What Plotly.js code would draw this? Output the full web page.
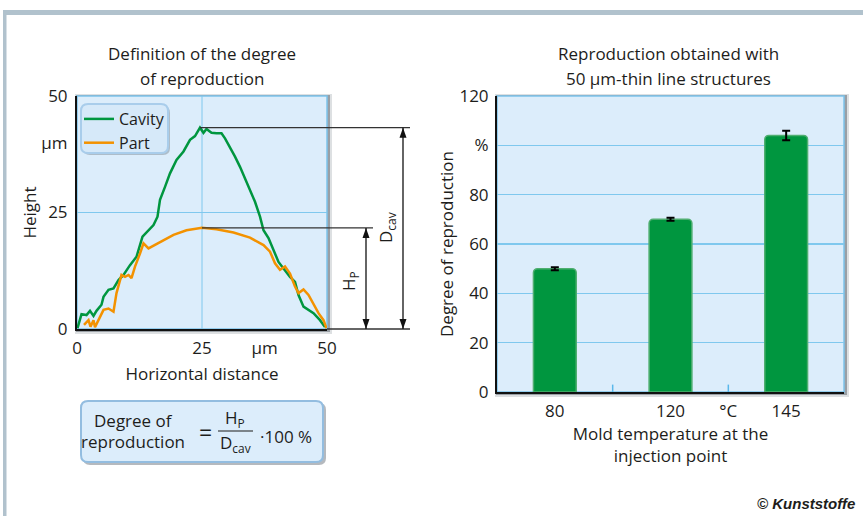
<!DOCTYPE html>
<html>
<head>
<meta charset="utf-8">
<script src="https://cdn.plot.ly/plotly-3.0.1.min.js"></script>
<style>html,body{margin:0;padding:0;background:#fff;}#chart{width:863px;height:516px;}</style>
</head>
<body>
<div id="chart"></div>
<script>
// ---------------- data ----------------
const cavityX = [0.1,0.9,1.9,2.6,3.3,3.9,4.9,5.3,6.3,7.3,8.3,9.3,10.6,11.9,13.1,14.1,15.3,16.1,16.6,17.6,18.6,19.9,21.3,22.6,23.6,24.6,25.3,25.9,26.9,27.9,28.9,29.6,30.6,31.6,32.6,33.6,34.6,35.6,36.6,37.3,38.3,39.3,40.3,41.3,42.6,43.6,44.3,45.3,46.3,47.3,48.6,49.6];
const cavityY = [0.2,3.2,3.0,3.9,2.8,3.9,5.2,6.9,8.4,8.7,10.5,11.6,13.7,15.5,19.8,20.9,22.3,24.1,27.7,30.5,33.4,36.3,38.1,40.6,41.4,43.2,42.1,42.9,42.1,42.0,42.0,40.9,39.1,37.0,34.8,32.3,29.8,27.3,24.1,21.2,19.5,17.0,14.4,13.0,11.2,10.1,7.3,4.8,4.1,3.4,1.9,0.4];
const partX = [1.4,2.3,2.7,3.3,3.6,4.3,5.3,6.3,7.3,7.9,8.9,9.6,10.3,10.9,11.6,12.6,13.3,14.3,16.6,19.3,21.9,25.0,27.9,31.3,34.6,37.3,38.6,39.6,40.6,41.6,42.6,43.6,44.3,45.3,46.3,47.3,48.3,49.3,49.9];
const partY = [0.9,1.9,0.5,1.9,0.4,1.9,4.1,4.4,3.7,7.7,11.6,11.2,11.6,10.9,13.4,16.2,18.4,17.3,18.7,20.2,21.2,21.7,21.4,20.7,19.6,18.0,16.6,14.1,12.7,13.4,11.9,9.1,7.7,8.5,7.3,5.2,3.4,1.9,0.15];
const heightTickVals = [0,25,40,50];
const heightTickText = ['0','25','µm','50'];
const distTickVals = [0,25,37.5,50];
const distTickText = ['0','25','µm','50'];

const temperatures = ['80','120','145'];
const reproduction = [50, 70, 104];
const reproductionErr = [0.6, 0.6, 1.9];
const tempTickVals = [0,2,3,4];
const tempTickText = ['80','120','°C','145'];
const reproTickVals = [0,20,40,60,80,100,120];
const reproTickText = ['0','20','40','60','80','%','120'];

// ---------------- helpers ----------------
const W = 863, H = 516;
const px = X => X / W;
const py = Y => 1 - Y / H;
const FONT = '"Open Sans", "Noto Sans", sans-serif';
const TXT = '#1d1d1b';
const GRID = '#7fc8ee';
const BG = '#dcedfb';
const GREEN = '#00963f';
const ORANGE = '#f39200';

const L = {x0:77, x1:327, y0:96, y1:329};
const R = {x0:497, x1:844, y0:96, y1:392};
const ppuL = (L.y1 - L.y0) / 50;   // pixels per µm (arrow heads only)

const cavMax = Math.max(...cavityY);
const partMax = Math.max(...partY);
const cavPeakX = cavityX[cavityY.indexOf(cavMax)];

function rr(x0,y0,x1,y1,r){
  const X=v=>px(v), Y=v=>py(v);
  return `M${X(x0+r)},${Y(y0)} L${X(x1-r)},${Y(y0)} Q${X(x1)},${Y(y0)} ${X(x1)},${Y(y0+r)} L${X(x1)},${Y(y1-r)} Q${X(x1)},${Y(y1)} ${X(x1-r)},${Y(y1)} L${X(x0+r)},${Y(y1)} Q${X(x0)},${Y(y1)} ${X(x0)},${Y(y1-r)} L${X(x0)},${Y(y0+r)} Q${X(x0)},${Y(y0)} ${X(x0+r)},${Y(y0)} Z`;
}
function prect(x0,y0,x1,y1,fill,line,lw){
  return {type:'rect', xref:'paper', yref:'paper', x0:px(x0), x1:px(x1), y0:py(y0), y1:py(y1),
    fillcolor:fill, line:{color:line||'rgba(0,0,0,0)', width:lw||0}, layer:'below'};
}
function dimArrow(X, top){
  const hl = 10 / ppuL, hw = 3.5;
  return [
    {type:'line', xref:'paper', yref:'y', x0:px(X), x1:px(X), y0:0, y1:top, line:{color:'#111', width:1.3}},
    {type:'path', xref:'paper', yref:'y', path:`M${px(X)},${top} L${px(X-hw)},${top-hl} L${px(X+hw)},${top-hl} Z`, fillcolor:'#111', line:{width:0}},
    {type:'path', xref:'paper', yref:'y', path:`M${px(X)},${0} L${px(X-hw)},${hl} L${px(X+hw)},${hl} Z`, fillcolor:'#111', line:{width:0}}
  ];
}

// ---------------- traces ----------------
const traces = [
  {type:'scatter', mode:'lines', x:cavityX, y:cavityY, name:'Cavity', xaxis:'x', yaxis:'y',
   line:{color:GREEN, width:2.5}},
  {type:'scatter', mode:'lines', x:partX, y:partY, name:'Part', xaxis:'x', yaxis:'y',
   line:{color:ORANGE, width:2.5}},
  {type:'bar', x:temperatures.map((t,i)=>2*i), y:reproduction, xaxis:'x2', yaxis:'y2', showlegend:false,
   width:0.74, marker:{color:GREEN, line:{color:'#4fae70', width:1.5}, cornerradius:4},
   error_y:{type:'data', array:reproductionErr, visible:true, color:'#000', thickness:2, width:4},
   hoverinfo:'skip'}
];

// ---------------- shapes ----------------
const shapes = [
  prect(3,10,863,15,'#b1c2cd'),
  prect(3,10,6.5,516,'#b1c2cd'),
  prect(L.x0-2,L.y0-2,L.x1+5,L.y1+5,'rgba(120,130,140,0.25)'),
  prect(L.x0-1,L.y0-1,L.x1+3,L.y1+3,'rgba(70,80,90,0.45)'),
  prect(L.x0,L.y0,L.x1,L.y1,BG,'#7cc4ec',1.5),
  prect(R.x0-2,R.y0-2,R.x1+5,R.y1+5,'rgba(120,130,140,0.25)'),
  prect(R.x0-1,R.y0-1,R.x1+3,R.y1+3,'rgba(70,80,90,0.45)'),
  prect(R.x0,R.y0,R.x1,R.y1,BG,'#7cc4ec',1.5),
  {type:'path', xref:'paper', yref:'paper', path:rr(83,106,170,155,7), fillcolor:'rgba(90,100,110,0.35)', line:{width:0}, layer:'below'},
  {type:'path', xref:'paper', yref:'paper', path:rr(81,104,168,153,7), fillcolor:'#d6e9f9', line:{color:'#a9cdeb', width:2}, layer:'below'},
  {type:'path', xref:'paper', yref:'paper', path:rr(83,403,326,465,7), fillcolor:'rgba(90,100,110,0.45)', line:{width:0}, layer:'below'},
  {type:'path', xref:'paper', yref:'paper', path:rr(81,401,323,462,7), fillcolor:BG, line:{color:'#93bde0', width:2}, layer:'below'},
  {type:'line', xref:'paper', yref:'paper', x0:px(218), x1:px(253), y0:py(431), y1:py(431), line:{color:TXT, width:1.2}},
  {type:'line', xref:'x', yref:'y domain', x0:25, x1:25, y0:0, y1:1, line:{color:GRID, width:1}, layer:'below'},
  {type:'line', xref:'x domain', yref:'y', x0:0, x1:1, y0:25, y1:25, line:{color:GRID, width:1}, layer:'below'},
  {type:'line', xref:'paper', yref:'y', x0:px(L.x0 + cavPeakX*5), x1:px(410), y0:cavMax, y1:cavMax, line:{color:'#333', width:1.3}},
  {type:'line', xref:'paper', yref:'y', x0:px(L.x0 + 25*5), x1:px(373), y0:partMax, y1:partMax, line:{color:'#333', width:1.3}},
  {type:'line', xref:'paper', yref:'y domain', x0:px(L.x1), x1:px(410), y0:0, y1:0, line:{color:'#333', width:1.3}},
  ...dimArrow(403, cavMax),
  ...dimArrow(366, partMax),
  {type:'line', xref:'x2', yref:'y2 domain', x0:1, x1:1, y0:0, y1:0.025, line:{color:'#5ab8ea', width:1.5}},
  {type:'line', xref:'x2', yref:'y2 domain', x0:3, x1:3, y0:0, y1:0.025, line:{color:'#5ab8ea', width:1.5}}
];

// ---------------- annotations ----------------
const ann = (X,Y,text,extra) => Object.assign({xref:'paper', yref:'paper', x:px(X), y:py(Y), text:text, showarrow:false,
  xanchor:'center', yanchor:'middle', font:{family:FONT, size:17, color:TXT}}, extra||{});

const annotations = [
  ann(202,54,'Definition of the degree'),
  ann(202,78,'of reproduction'),
  ann(668,54,'Reproduction obtained with'),
  ann(668,78,'50 µm-thin line structures'),
  ann(386,228,'D<sub>cav</sub>',{textangle:-90}),
  ann(349,281,'H<sub>P</sub>',{textangle:-90}),
  ann(133,420,'Degree of'),
  ann(133,441,'reproduction'),
  ann(205,432,'=',{font:{family:FONT,size:23,color:TXT}}),
  ann(235,418,'H<sub>P</sub>'),
  ann(235,443,'D<sub>cav</sub>'),
  ann(286,436,'·100 %'),
  ann(857,503,'<b><i>© Kunststoffe</i></b>',{xanchor:'right', font:{family:'Liberation Sans, Arial, sans-serif', size:15, color:TXT}})
];

const titleFont = {family:FONT, size:17, color:TXT};
const axisCommon = {showgrid:false, zeroline:false, showline:true, linecolor:'#111', linewidth:2,
  ticks:'', fixedrange:true, automargin:false, tickfont:{family:FONT, size:17, color:TXT}};

const layout = {
  width:W, height:H, margin:{l:0,r:0,t:0,b:0}, paper_bgcolor:'#ffffff', plot_bgcolor:'rgba(0,0,0,0)',
  font:{family:FONT, size:16, color:TXT},
  showlegend:true,
  legend:{x:px(79), y:py(102), xanchor:'left', yanchor:'top', bgcolor:'rgba(0,0,0,0)', borderwidth:0,
    font:{family:FONT, size:16, color:TXT}, tracegroupgap:0, itemwidth:30},
  xaxis:Object.assign({}, axisCommon, {domain:[px(L.x0), px(L.x1)], range:[0,50], anchor:'y',
    tickmode:'array', tickvals:distTickVals, ticktext:distTickText, ticklabelstandoff:3,
    title:{text:'Horizontal distance', font:titleFont, standoff:10}}),
  yaxis:Object.assign({}, axisCommon, {domain:[py(L.y1), py(L.y0)], range:[0,50], anchor:'x',
    tickmode:'array', tickvals:heightTickVals, ticktext:heightTickText, ticklabelstandoff:4,
    title:{text:'Height', font:titleFont, standoff:0}}),
  xaxis2:Object.assign({}, axisCommon, {domain:[px(R.x0), px(R.x1)], range:[-1,5], anchor:'y2',
    tickmode:'array', tickvals:tempTickVals, ticktext:tempTickText, ticklabelstandoff:3,
    title:{text:'Mold temperature at the<br>injection point', font:titleFont, standoff:6}}),
  yaxis2:Object.assign({}, axisCommon, {domain:[py(R.y1), py(R.y0)], range:[0,120], anchor:'x2',
    tickmode:'array', tickvals:reproTickVals, ticktext:reproTickText, showgrid:true, gridcolor:GRID, gridwidth:1.2, ticklabelstandoff:3,
    title:{text:'Degree of reproduction', font:titleFont, standoff:1}}),
  shapes:shapes,
  annotations:annotations
};

Plotly.newPlot('chart', traces, layout, {displayModeBar:false, staticPlot:true});
</script>
</body>
</html>
